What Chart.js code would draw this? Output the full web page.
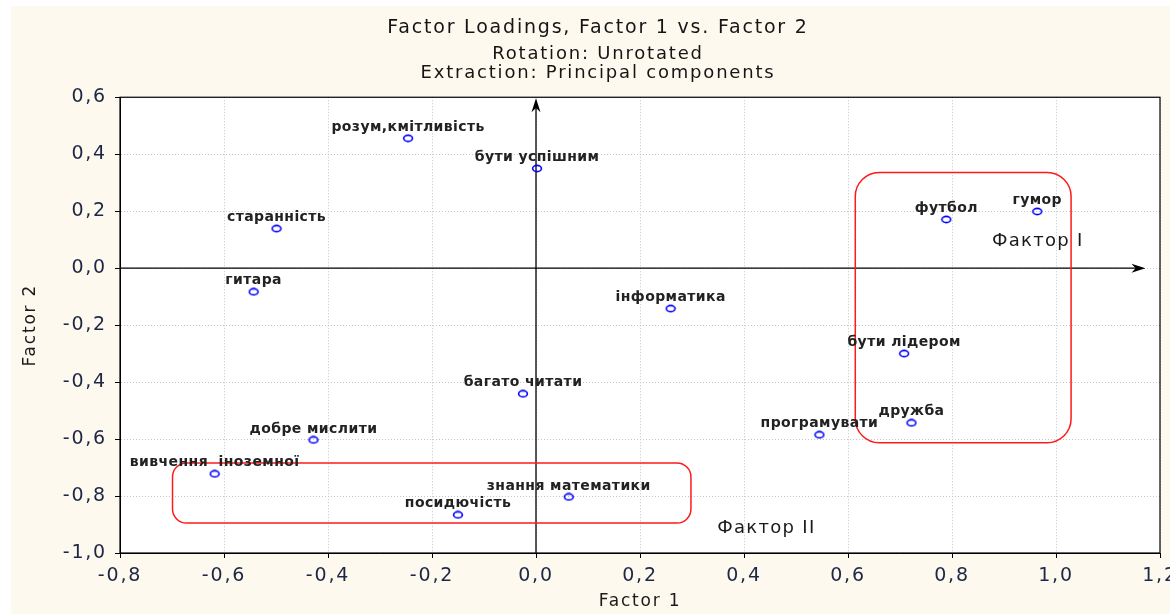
<!DOCTYPE html>
<html>
<head>
<meta charset="utf-8">
<title>Factor Loadings, Factor 1 vs. Factor 2</title>
<script src="https://cdn.jsdelivr.net/npm/chart.js@4.4.1/dist/chart.umd.min.js"></script>
<style>
  html, body { margin: 0; padding: 0; background: #fff; }
  canvas { display: block; }
</style>
</head>
<body>
<canvas id="loadingsChart" width="1170" height="614"></canvas>
<script>
// Variables and their loadings on the first two (unrotated) factors
const variables = [
  "розум,кмітливість", "бути успішним", "старанність", "гитара", "інформатика",
  "футбол", "гумор", "бути лідером", "дружба", "програмувати",
  "багато читати", "добре мислити", "вивчення  іноземної", "знання математики", "посидючість"
];
const factor1 = [-0.246, 0.002, -0.499, -0.543, 0.259, 0.789, 0.964, 0.708, 0.722, 0.545, -0.025, -0.428, -0.618, 0.063, -0.150];
const factor2 = [0.456, 0.350, 0.139, -0.083, -0.142, 0.171, 0.199, -0.300, -0.543, -0.585, -0.441, -0.603, -0.722, -0.803, -0.866];

// Axis tick values
const xTickValues = [-0.8, -0.6, -0.4, -0.2, 0.0, 0.2, 0.4, 0.6, 0.8, 1.0, 1.2];
const yTickValues = [-1.0, -0.8, -0.6, -0.4, -0.2, 0.0, 0.2, 0.4, 0.6];

// Hand-drawn groupings (in factor units)
const groupNames = ["Фактор I", "Фактор II"];
const groupNameX = [0.965, 0.443];
const groupNameY = [0.094, -0.912];
const groupBoxX = [[0.614, 1.029], [-0.699, 0.298]];
const groupBoxY = [[0.336, -0.613], [-0.684, -0.895]];

const FONT = "DejaVu Sans";
const fmt = (v) => Number(v).toFixed(1).replace(".", ",");

// small blue ellipse used as the point marker
const marker = document.createElement("canvas");
marker.width = 12;
marker.height = 9;
const m = marker.getContext("2d");
m.strokeStyle = "#0000ff";
m.lineWidth = 1.6;
m.beginPath();
m.ellipse(6, 4.5, 4.4, 3.1, 0, 0, Math.PI * 2);
m.stroke();

function arrowHead(ctx, x, y, dx, dy) {
  const len = 14, half = 4.5;
  const bx = x - dx * len, by = y - dy * len;
  const nx = -dy, ny = dx;
  ctx.beginPath();
  ctx.moveTo(x, y);
  ctx.lineTo(bx + nx * half, by + ny * half);
  ctx.lineTo(x - dx * len * 0.7, y - dy * len * 0.7);
  ctx.lineTo(bx - nx * half, by - ny * half);
  ctx.closePath();
  ctx.fill();
}

const decorations = {
  id: "decorations",
  beforeDraw(chart) {
    const ctx = chart.ctx, a = chart.chartArea;
    ctx.save();
    ctx.fillStyle = "#ffffff";
    ctx.fillRect(0, 0, chart.width, chart.height);
    ctx.fillStyle = "#fef9ee";
    ctx.fillRect(11, 6, chart.width - 11, chart.height - 6);
    ctx.fillStyle = "#ffffff";
    ctx.fillRect(a.left, a.top, a.right - a.left, a.bottom - a.top);
    ctx.restore();
    ctx.letterSpacing = "1.8px";
  },
  beforeDatasetsDraw(chart) {
    const ctx = chart.ctx, xs = chart.scales.x, ys = chart.scales.y;
    ctx.save();
    // axis arrows through the origin
    ctx.strokeStyle = "#000";
    ctx.fillStyle = "#000";
    ctx.lineWidth = 1.3;
    const x0 = xs.getPixelForValue(0), y0 = ys.getPixelForValue(0);
    const top = ys.getPixelForValue(0.6) + 1, bottom = ys.getPixelForValue(-1.0);
    ctx.beginPath();
    ctx.moveTo(x0, bottom);
    ctx.lineTo(x0, top + 8);
    ctx.stroke();
    arrowHead(ctx, x0, top, 0, -1);
    const left = xs.getPixelForValue(-0.8), right = xs.getPixelForValue(1.172);
    ctx.beginPath();
    ctx.moveTo(left, y0);
    ctx.lineTo(right - 8, y0);
    ctx.stroke();
    arrowHead(ctx, right, y0, 1, 0);
    // red group outlines
    ctx.strokeStyle = "#ff1a1a";
    ctx.lineWidth = 1.5;
    groupBoxX.forEach((bx, i) => {
      const l = xs.getPixelForValue(bx[0]), r = xs.getPixelForValue(bx[1]);
      const t = ys.getPixelForValue(groupBoxY[i][0]), b = ys.getPixelForValue(groupBoxY[i][1]);
      ctx.beginPath();
      ctx.roundRect(l, t, r - l, b - t, i === 0 ? 24 : 14);
      ctx.stroke();
    });
    ctx.restore();
  },
  afterDatasetsDraw(chart) {
    const ctx = chart.ctx, xs = chart.scales.x, ys = chart.scales.y;
    ctx.save();
    ctx.textAlign = "center";
    ctx.textBaseline = "middle";
    ctx.fillStyle = "#222222";
    ctx.font = "bold 14px '" + FONT + "'";
    ctx.letterSpacing = "0.4px";
    variables.forEach((name, i) => {
      ctx.fillText(name, xs.getPixelForValue(factor1[i]), ys.getPixelForValue(factor2[i]) - 11);
    });
    ctx.font = "18px '" + FONT + "'";
    ctx.letterSpacing = "1.3px";
    ctx.fillStyle = "#1a1a1a";
    groupNames.forEach((name, i) => {
      ctx.fillText(name, xs.getPixelForValue(groupNameX[i]), ys.getPixelForValue(groupNameY[i]));
    });
    ctx.restore();
  },
  afterDraw(chart) {
    const ctx = chart.ctx, a = chart.chartArea;
    ctx.letterSpacing = "0px";
    ctx.save();
    ctx.strokeStyle = "#000";
    ctx.lineWidth = 1.2;
    ctx.strokeRect(a.left, a.top, a.right - a.left, a.bottom - a.top);
    ctx.restore();
  }
};

const tickFont = { family: FONT, size: 19 };
const textColor = "#1d2745";

new Chart(document.getElementById("loadingsChart"), {
  type: "scatter",
  data: {
    datasets: [{
      data: variables.map((name, i) => ({ x: factor1[i], y: factor2[i] })),
      pointStyle: marker,
      pointRadius: 5,
      pointHoverRadius: 5
    }]
  },
  options: {
    responsive: false,
    animation: false,
    layout: { padding: { left: 36, right: 10, top: 0, bottom: 0 } },
    plugins: {
      legend: { display: false },
      tooltip: { enabled: false },
      title: {
        display: true,
        text: "Factor Loadings, Factor 1 vs. Factor 2",
        color: "#151515",
        font: { family: FONT, size: 19, weight: "normal", lineHeight: 1.15 },
        padding: { top: 17, bottom: 6 }
      },
      subtitle: {
        display: true,
        text: ["Rotation: Unrotated", "Extraction: Principal components"],
        color: "#151515",
        font: { family: FONT, size: 18, lineHeight: 1.05 },
        padding: { top: 0, bottom: 14.6 }
      }
    },
    scales: {
      x: {
        type: "linear",
        min: -0.8,
        max: 1.2,
        afterBuildTicks: (scale) => { scale.ticks = xTickValues.map((v) => ({ value: v })); },
        afterFit: (scale) => { scale.height = 61; scale.paddingLeft = 0; scale.paddingRight = 0; },
        ticks: { callback: fmt, color: textColor, font: tickFont, padding: 7, maxRotation: 0, autoSkip: false },
        grid: { color: "#c4c4c4", tickColor: "#000", tickLength: 5, tickBorderDash: [] },
        border: { color: "#000", width: 1, dash: [1, 2] },
        title: { display: true, text: "Factor 1", color: "#1a1a1a", font: { family: FONT, size: 17 }, padding: { top: 0, bottom: 2 } }
      },
      y: {
        type: "linear",
        min: -1.0,
        max: 0.6,
        afterBuildTicks: (scale) => { scale.ticks = yTickValues.map((v) => ({ value: v })); },
        afterFit: (scale) => { scale.width = 84; },
        ticks: { callback: fmt, color: textColor, font: tickFont, padding: 8, autoSkip: false },
        grid: { color: "#c4c4c4", tickColor: "#000", tickLength: 5, tickBorderDash: [] },
        border: { color: "#000", width: 1, dash: [1, 2] },
        title: { display: true, text: "Factor 2", color: "#1a1a1a", font: { family: FONT, size: 17 }, padding: { top: -16, bottom: 0 } }
      }
    }
  },
  plugins: [decorations]
});
</script>
</body>
</html>
